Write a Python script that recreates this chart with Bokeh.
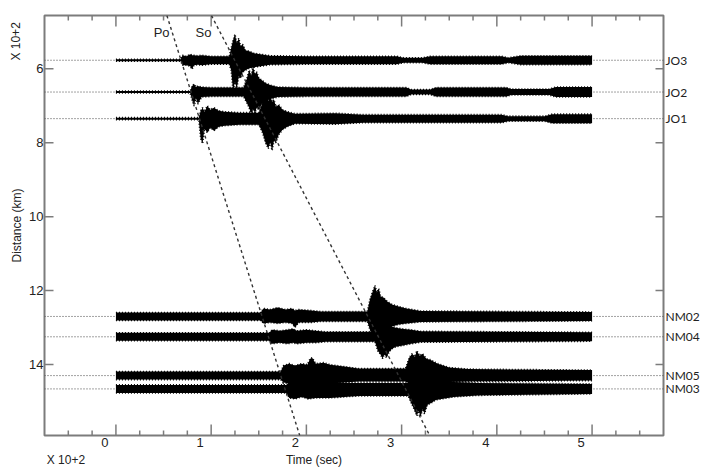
import math
import numpy as np
from bokeh.plotting import figure
from bokeh.models import Range1d, LinearAxis, FixedTicker, Label, Span
from bokeh.embed import file_html
from bokeh.resources import INLINE

# ---------------- data (time in sec x 10^2, distance in km x 10^2) ----------------
STATIONS = ["JO3", "JO2", "JO1", "NM02", "NM04", "NM05", "NM03"]
STATION_DIST = [5.77, 6.63, 7.35, 12.70, 13.25, 14.30, 14.66]

# phase moveout lines (time, distance) at top and bottom of window
PO_T = [0.535, 1.93]
PO_D = [4.56, 15.92]
SO_T = [1.003, 3.295]
SO_D = [4.56, 15.92]

# envelope of each seismogram: times, amplitude toward smaller / larger distance (counts)
JO3_T = [0.00, 0.68, 0.70, 0.74, 0.78, 0.80, 0.82, 0.86, 0.90, 1.00, 1.10, 1.19, 1.21, 1.23, 1.25, 1.27, 1.29, 1.31, 1.33, 1.36, 1.40, 1.45, 1.52, 1.62, 2.00, 2.95, 3.02, 3.22, 3.30, 4.05, 4.12, 4.25, 5.00]
JO3_UP = [1.0, 1.0, 5, 4, 6, 5, 5, 4.5, 5, 4, 4, 4, 12, 20, 26, 17, 22, 14, 16, 10, 9, 7, 6, 4.5, 4, 4, 2.5, 2.5, 4, 4, 2.5, 4.5, 4.5]
JO3_DN = [1.0, 1.0, 5, 5, 6, 9, 5, 4.5, 5, 4, 4, 4, 10, 30, 22, 28, 16, 18, 12, 10, 8, 7, 6, 4.5, 4, 4, 2.5, 2.5, 4, 4, 2.5, 4.5, 4.5]

JO2_T = [0.00, 0.78, 0.80, 0.82, 0.84, 0.86, 0.90, 1.00, 1.20, 1.34, 1.37, 1.40, 1.42, 1.44, 1.46, 1.48, 1.50, 1.53, 1.57, 1.62, 1.70, 2.00, 3.05, 3.10, 3.30, 3.36, 4.10, 4.15, 4.55, 4.62, 5.00]
JO2_UP = [1.0, 1.0, 6, 8, 5, 6, 5, 4.5, 4.5, 4.5, 12, 22, 16, 25, 18, 20, 14, 12, 9, 7, 5, 4.5, 4.5, 2.5, 2.5, 4.5, 4.5, 3, 3, 5, 5]
JO2_DN = [1.0, 1.0, 8, 14, 6, 12, 5, 4.5, 4.5, 4.5, 10, 16, 22, 17, 21, 15, 18, 12, 9, 7, 5, 4.5, 4.5, 2.5, 2.5, 4.5, 4.5, 3, 3, 5, 5]

JO1_T = [0.00, 0.87, 0.89, 0.91, 0.93, 0.96, 0.99, 1.03, 1.08, 1.14, 1.30, 1.50, 1.54, 1.57, 1.60, 1.62, 1.64, 1.66, 1.68, 1.71, 1.75, 1.80, 1.88, 2.30, 2.60, 4.05, 4.12, 4.50, 4.58, 5.00]
JO1_UP = [1.0, 1.0, 8, 11, 7, 13, 9, 11, 8, 7, 6, 6, 16, 22, 18, 23, 17, 19, 12, 14, 9, 7, 5, 5.5, 4, 4, 2.5, 2.5, 4.5, 4.5]
JO1_DN = [1.0, 1.0, 20, 25, 10, 14, 9, 12, 8, 7, 6, 6, 14, 24, 30, 24, 32, 22, 24, 16, 11, 8, 5, 5.5, 4, 4, 2.5, 2.5, 4.5, 4.5]

NM02_T = [0.00, 1.52, 1.55, 1.62, 1.70, 1.78, 1.85, 1.88, 1.92, 2.05, 2.15, 2.64, 2.67, 2.70, 2.72, 2.74, 2.76, 2.78, 2.81, 2.85, 2.90, 2.97, 3.05, 3.20, 5.00]
NM02_UP = [4.0, 4.0, 8, 7, 9, 7, 8, 6, 7, 6, 5, 5, 18, 26, 31, 24, 28, 20, 19, 15, 12, 10, 8, 5.5, 4.5]
NM02_DN = [4.0, 4.0, 7, 6, 7, 6, 7, 11, 6, 6, 5, 5, 14, 18, 20, 16, 18, 14, 13, 12, 10, 8, 7, 5.5, 4.5]

NM04_T = [0.00, 1.61, 1.64, 1.72, 1.80, 1.86, 1.90, 2.00, 2.10, 2.20, 2.72, 2.75, 2.78, 2.80, 2.82, 2.84, 2.87, 2.90, 2.94, 3.00, 3.10, 3.20, 5.00]
NM04_UP = [4.0, 4.0, 7, 6, 7, 8, 6, 7, 6, 5, 5, 12, 16, 13, 15, 12, 11, 10, 9, 8, 7, 5.5, 4.5]
NM04_DN = [4.0, 4.0, 7, 6, 7, 6, 7, 6, 6, 5, 5, 14, 18, 22, 17, 21, 15, 12, 10, 9, 7, 5.5, 4.5]

NM05_T = [0.00, 1.73, 1.76, 1.82, 1.88, 1.95, 2.01, 2.04, 2.06, 2.10, 2.18, 2.25, 2.40, 2.55, 3.04, 3.08, 3.11, 3.14, 3.16, 3.19, 3.22, 3.26, 3.30, 3.38, 3.50, 3.70, 5.00]
NM05_UP = [4.0, 4.0, 10, 12, 10, 12, 11, 17, 18, 12, 13, 11, 9, 7, 7, 18, 22, 19, 25, 20, 22, 17, 16, 12, 8, 6.5, 5.5]
NM05_DN = [4.0, 4.0, 7, 8, 8, 8, 8, 8, 8, 8, 8, 8, 7, 6, 6, 8, 8, 8, 8, 8, 8, 8, 8, 7, 6.5, 6, 5]

NM03_T = [0.00, 1.79, 1.82, 1.88, 1.95, 2.02, 2.10, 2.25, 2.40, 2.55, 3.07, 3.10, 3.13, 3.16, 3.18, 3.20, 3.22, 3.24, 3.27, 3.31, 3.36, 3.42, 3.55, 3.80, 5.00]
NM03_UP = [4.0, 4.0, 7, 7, 7, 7, 7, 7, 6, 6, 6, 12, 14, 14, 14, 14, 14, 12, 12, 10, 9, 8, 7, 6, 5]
NM03_DN = [4.0, 4.0, 9, 10, 8, 10, 9, 9, 8, 7, 7, 14, 20, 27, 22, 28, 20, 25, 16, 14, 11, 10, 8, 6.5, 5]

TRACES = [
    (JO3_T, JO3_UP, JO3_DN), (JO2_T, JO2_UP, JO2_DN), (JO1_T, JO1_UP, JO1_DN),
    (NM02_T, NM02_UP, NM02_DN), (NM04_T, NM04_UP, NM04_DN),
    (NM05_T, NM05_UP, NM05_DN), (NM03_T, NM03_UP, NM03_DN),
]

X_MAJOR = [0, 1, 2, 3, 4, 5]
X_LABELS = ["0", "1", "2", "3", "4", "5"]
Y_MAJOR = [6, 8, 10, 12, 14]
X_LIM = (-0.75, 5.75)
Y_LIM = (15.92, 4.56)

# axis titles, placed at data positions along their axes
X_TITLES = {-0.525: "X 10+2", 2.08: "Time (sec)"}
Y_TITLES = {5.26: "X 10+2", 10.24: "Distance (km)"}

# ---------------- styling ----------------
GAIN = 0.027           # distance units per amplitude count
X_LABEL_SHIFT = 0.115  # tick numbers sit a little left of their ticks in the original
AX = "#7c7c7c"
TXT = "#222222"
FONT = "Liberation Sans"

p = figure(width=702, height=469, output_backend="svg", toolbar_location=None,
           x_range=Range1d(*X_LIM), y_range=Range1d(*Y_LIM),
           x_axis_location=None, y_axis_location=None,
           min_border_left=44, min_border_right=39, min_border_top=15, min_border_bottom=34)
p.xgrid.visible = False
p.ygrid.visible = False
p.background_fill_color = None
p.border_fill_color = "white"
p.outline_line_color = AX
p.outline_line_width = 2

x_minor = [k / 4 for k in range(-2, 23) if k % 4 != 0]


def bare(ax, size):
    ax.axis_line_color = None
    ax.major_tick_line_color = None
    ax.minor_tick_line_color = None
    ax.major_tick_in = 0
    ax.major_tick_out = 0
    ax.minor_tick_in = 0
    ax.minor_tick_out = 0
    ax.major_label_text_color = TXT
    ax.major_label_text_font = FONT
    ax.major_label_text_font_size = size


# bottom: tick numbers, then axis titles
xlab_pos = [round(k - X_LABEL_SHIFT, 3) for k in X_MAJOR]
bottom = LinearAxis(ticker=FixedTicker(ticks=xlab_pos),
                    major_label_overrides=dict(zip(xlab_pos, X_LABELS)))
bare(bottom, "13px")
bottom.major_label_standoff = 2
p.add_layout(bottom, "below")

bottom_t = LinearAxis(ticker=FixedTicker(ticks=list(X_TITLES)), major_label_overrides=X_TITLES)
bare(bottom_t, "12px")
bottom_t.major_label_standoff = 3
p.add_layout(bottom_t, "below")

# left: distance numbers, then titles
left = LinearAxis(ticker=FixedTicker(ticks=Y_MAJOR))
bare(left, "13px")
left.major_label_standoff = 1
p.add_layout(left, "left")

left_t = LinearAxis(ticker=FixedTicker(ticks=list(Y_TITLES)), major_label_overrides=Y_TITLES)
bare(left_t, "12px")
left_t.major_label_orientation = "parallel"
left_t.major_label_standoff = 3
p.add_layout(left_t, "left")

# right: station names
right = LinearAxis(ticker=FixedTicker(ticks=STATION_DIST),
                   major_label_overrides=dict(zip(STATION_DIST, STATIONS)))
bare(right, "12px")
right.major_label_standoff = 2
right.major_label_text_font = "Lato"
p.add_layout(right, "right")

# inward tick marks on the four frame edges (half of each dash is clipped by the frame)
tick = dict(marker="dash", line_color=AX, line_width=1.5)
for yedge in Y_LIM:
    p.scatter(x=X_MAJOR, y=[yedge] * len(X_MAJOR), angle=math.pi / 2, size=22, **tick)
    p.scatter(x=x_minor, y=[yedge] * len(x_minor), angle=math.pi / 2, size=10, **tick)
p.scatter(x=[X_LIM[0]] * len(Y_MAJOR), y=Y_MAJOR, size=18, **tick)
p.scatter(x=[X_LIM[1]] * len(Y_MAJOR), y=Y_MAJOR, size=16, **tick)

# station reference lines
for d in STATION_DIST:
    p.add_layout(Span(location=d, dimension="width", line_color="#444444",
                      line_width=1, line_dash="1 2", level="underlay"))

# seismograms (envelopes) with a serrated edge
for d, (t, up, dn) in zip(STATION_DIST, TRACES):
    t = np.asarray(t)
    y1 = d - GAIN * np.asarray(up)
    y2 = d + GAIN * np.asarray(dn)
    p.varea(x=t, y1=y1, y2=y2, fill_color="black")
    p.line(t, y1, line_color="black", line_width=1.6, line_dash="1 2")
    p.line(t, y2, line_color="black", line_width=1.6, line_dash="1 2")

# phase lines
p.line(PO_T, PO_D, line_color="#333333", line_width=1.4, line_dash="3 3")
p.line(SO_T, SO_D, line_color="#333333", line_width=1.4, line_dash="3 3")

lab = dict(text_font=FONT, text_color=TXT, text_font_size="13px",
           text_align="center", text_baseline="middle")
p.add_layout(Label(x=0.48, y=5.02, text="Po", **lab))
p.add_layout(Label(x=0.92, y=5.02, text="So", **lab))

open("out.html", "w").write(file_html(p, INLINE))
